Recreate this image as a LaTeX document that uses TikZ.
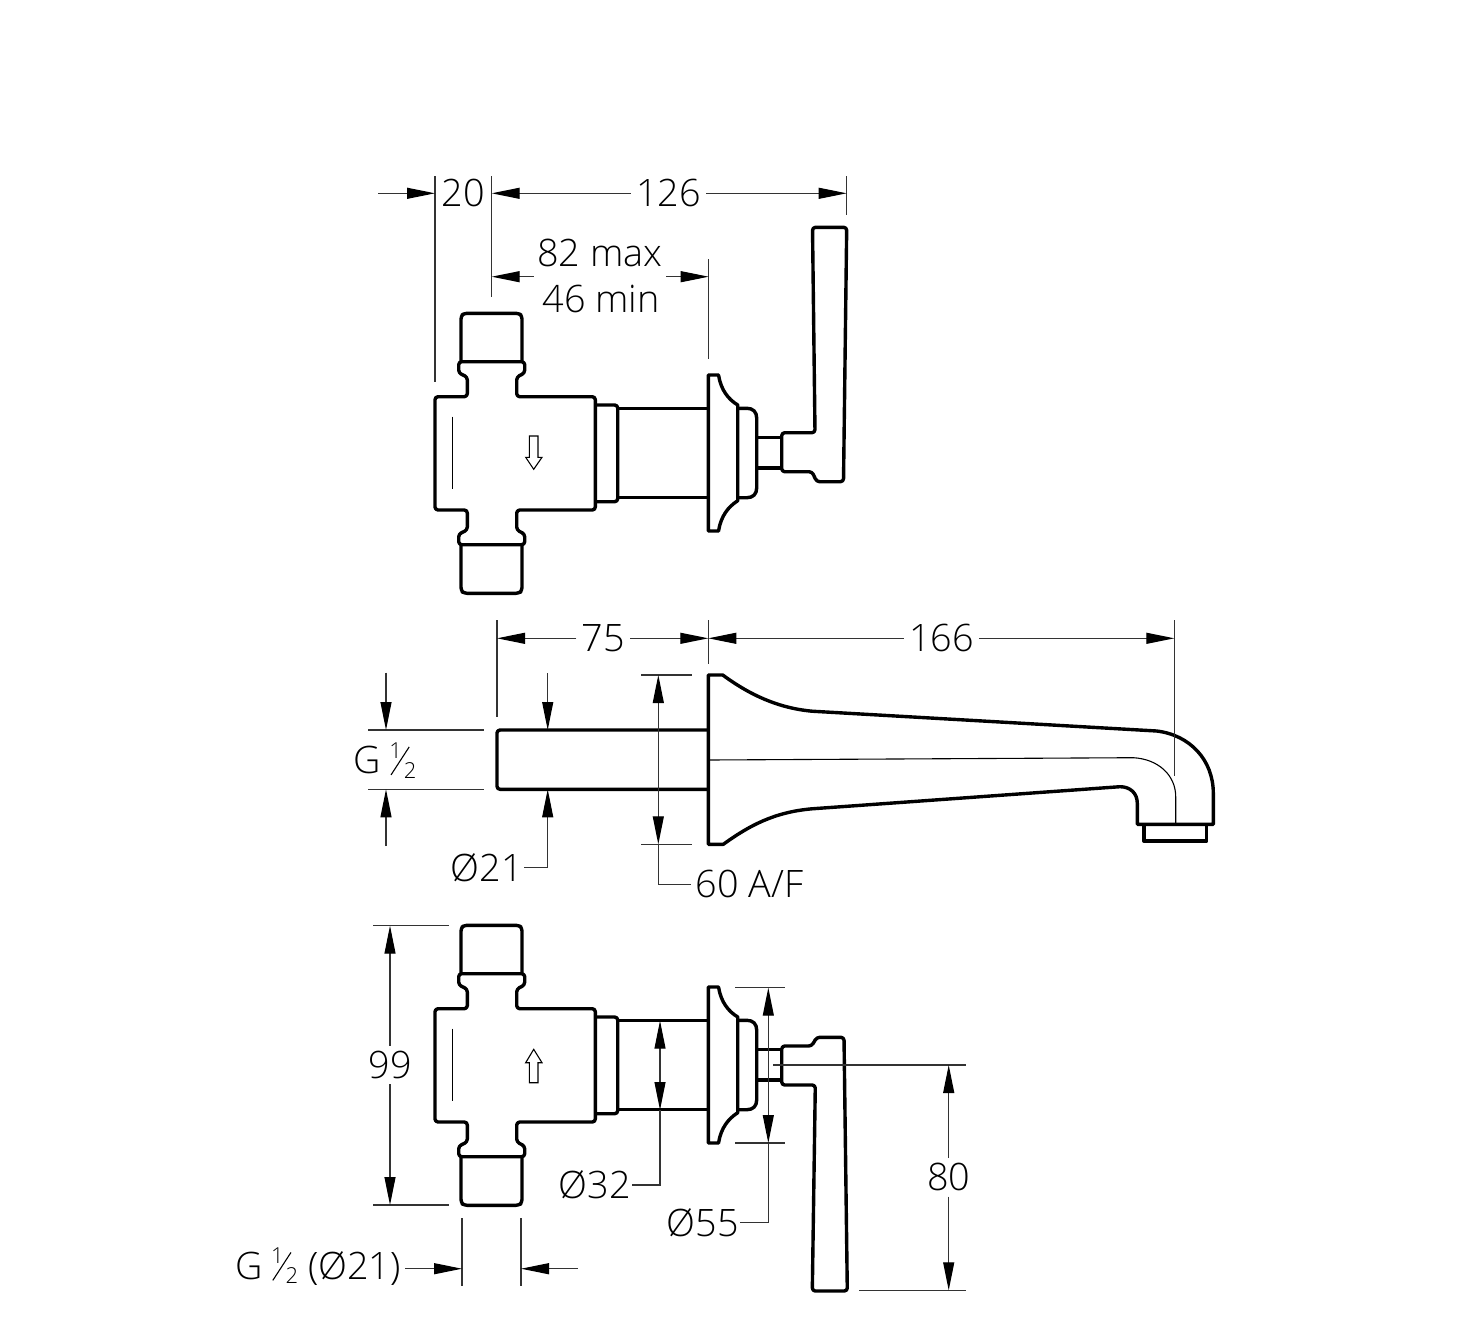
\documentclass[tikz,border=0pt]{standalone}
\usepackage{fontspec}
\setmainfont{Open Sans Light}
\usetikzlibrary{arrows.meta}

% fraction as the drawing prints it
\newcommand{\halfmark}{\smash{\kern4.8pt\rlap{\kern-0.6pt\raisebox{7.6pt}{\fontsize{11}{11}\selectfont 1}}\rlap{\raisebox{-.85pt}{\rotatebox{57}{\rule{16.7pt}{.55pt}}}}\kern6.65pt\raisebox{-2.4pt}{\fontsize{11}{11}\selectfont 2}}}

\begin{document}
\begin{tikzpicture}[x=0.5pt, y=-0.5pt,
    part/.style={line width=1.7pt, line join=round},
    soft/.style={part, rounded corners=1.5pt},
    axis/.style={line width=0.55pt},
    witness/.style={line width=0.55pt, black!80},
    dimline/.style={line width=0.55pt, black!80, -{Triangle[length=14pt, width=5.5pt, black]}},
    dimboth/.style={line width=0.55pt, black!80, {Triangle[length=14pt, width=5.5pt, black]}-{Triangle[length=14pt, width=5.5pt, black]}},
    size/.style={inner sep=2.5pt, font=\fontsize{18.9}{22}\selectfont},
    valve/.pic={
      % cap, body, end piece
      \draw[soft] (461,361.7) -- (461,316) -- (464,313.3) -- (519,313.3) -- (522,316) -- (522,361.7);
      \draw[soft] (458.7,361.7) -- (458.7,373) -- (467.3,377) -- (467.3,396.7) -- (435,396.7) -- (435,510)
        -- (467.3,510) -- (467.3,530) -- (458.7,534) -- (458.7,544.7) -- (524.7,544.7) -- (524.7,534)
        -- (516.7,530) -- (516.7,510) -- (595.3,510) -- (595.3,396.7) -- (516.7,396.7) -- (516.7,377)
        -- (524.7,373) -- (524.7,361.7) -- cycle;
      \draw[soft] (461,544.7) -- (461,590.5) -- (464,593.3) -- (519,593.3) -- (522,590.5) -- (522,544.7);
      \draw[axis] (452.3,416.7) -- (452.3,489.3);
      % ring and sleeve
      \draw[soft] (595.3,405) -- (617.7,405) -- (617.7,501.7) -- (595.3,501.7);
      \draw[part] (617.7,408.3) -- (708.3,408.3);
      \draw[part] (617.7,497.7) -- (708.3,497.7);
      % plate and cover
      \draw[part] (708.3,375) -- (718.5,375) .. controls (721,390) and (728,399) .. (737.7,405) -- (737.7,500.7)
        .. controls (728,507) and (721,516) .. (718.5,531) -- (708.3,531) -- cycle;
      \draw[part] (737.7,408.3) -- (747,408.3) .. controls (753,408.3) and (756.7,412) .. (756.7,418)
        -- (756.7,488) .. controls (756.7,494) and (753,497.7) .. (747,497.7) -- (737.7,497.7);
      % stem
      \draw[part] (756.7,437.7) -- (781.7,437.7);
      \draw[part] (756.7,468) -- (781.7,468);
    }]
  \useasboundingbox (0,0) rectangle (1476,1322);

  %% top view
  \pic at (0,0) {valve};
  \draw[axis] (529.3,436) -- (538,436) -- (538,457.3) -- (542,457.3) -- (533.7,469.3) -- (525.7,457.3) -- (529.3,457.3) -- cycle;
  \draw[soft] (781.7,432.7) -- (815,432.7) -- (812.5,227.3) -- (846.7,227.3) -- (843.5,481.7)
    -- (816.7,481.7) -- (812,471.7) -- (781.7,471.7) -- cycle;

  \draw[witness] (435,176) -- (435,381.7);
  \draw[witness] (491.7,176) -- (491.7,296.7);
  \draw[witness] (846.7,176) -- (846.7,215);
  \draw[witness] (708.7,259.3) -- (708.7,359);

  \node[size] (lab20) at (463.3,193.3) {20};
  \node[size] (lab126) at (668.7,193.3) {126};
  \node[size] (labmax) at (600,253) {82 max};
  \node[size] (labmin) at (601,299) {46 min};
  \coordinate (a20) at (378,193.3);
  \coordinate (b20) at (435,193.3);
  \coordinate (a126) at (491.7,193.3);
  \coordinate (b126) at (846.7,193.3);
  \draw[dimline] (a20) -- (b20);
  \draw[dimline] (lab126) -- (a126);
  \draw[dimline] (lab126) -- (b126);
  \coordinate (a82) at (533.7,276.7);
  \coordinate (b82) at (491.7,276.7);
  \coordinate (c82) at (666,276.7);
  \coordinate (d82) at (708.7,276.7);
  \draw[dimline] (a82) -- (b82);
  \draw[dimline] (c82) -- (d82);

  %% spout
  \draw[soft] (708.3,730) -- (497,730) -- (497,789.3) -- (708.3,789.3);
  \draw[part] (708.3,675) -- (722.7,675) .. controls (750,695) and (778,708) .. (812,711.2)
    -- (1156.7,731) .. controls (1190,735) and (1213.3,760) .. (1213.3,793.3) -- (1213.3,824.3)
    -- (1137.3,824.3) -- (1137.3,803.3) .. controls (1137.3,793) and (1130,786.7) .. (1120,786.7)
    -- (812,808.8) .. controls (775,812) and (750,825) .. (723.3,844.3) -- (708.3,844.3) -- cycle;
  \draw[axis] (708.3,760) -- (1133.3,757.7) .. controls (1158,759) and (1175.7,775) .. (1175.7,796.7) -- (1175.7,824.3);
  \draw[part] (1144,824.3) -- (1144,841) -- (1206.7,841) -- (1206.7,824.3);

  \draw[witness] (497,620) -- (497,716.7);
  \draw[witness] (708.3,620) -- (708.3,664.3);
  \draw[witness] (1174.3,620) -- (1174.3,776);
  \draw[witness] (368.3,730) -- (484,730);
  \draw[witness] (368.3,789.3) -- (484,789.3);
  \draw[witness] (641,675) -- (691.7,675);
  \draw[witness] (641,844.3) -- (691.7,844.3);

  \node[size] (lab75) at (603.3,638.3) {75};
  \node[size] (lab166) at (941.7,638.3) {166};
  \node[size] (labg) at (385,760) {G\halfmark};
  \node[size, inner xsep=0.5pt] (lab21) at (486.7,867.3) {Ø21};
  \node[size] (labaf) at (749.7,884.3) {60 A/F};
  \coordinate (a75) at (497,638.3);
  \coordinate (b75) at (708.3,638.3);
  \coordinate (b166) at (1174.3,638.3);
  \draw[dimline] (lab75) -- (a75);
  \draw[dimline] (lab75) -- (b75);
  \draw[dimline] (lab166) -- (b75);
  \draw[dimline] (lab166) -- (b166);
  \coordinate (g1) at (386,672.7);
  \coordinate (g2) at (386,730);
  \coordinate (g3) at (386,846);
  \coordinate (g4) at (386,789.3);
  \draw[dimline] (g1) -- (g2);
  \draw[dimline] (g3) -- (g4);
  \coordinate (d1) at (547.7,673.3);
  \coordinate (d2) at (547.7,730);
  \coordinate (d3) at (547.7,867.3);
  \coordinate (d4) at (547.7,789.3);
  \draw[dimline] (d1) -- (d2);
  \draw[dimline] (lab21) -- (d3) -- (d4);
  \coordinate (f1) at (658.3,675);
  \coordinate (f2) at (658.3,844.3);
  \coordinate (f3) at (658.3,884.3);
  \draw[dimboth] (f1) -- (f2);
  \draw[witness] (f2) -- (f3) -- (labaf);

  %% bottom view
  \pic at (0,612) {valve};
  \draw[axis] (529.3,1082.7) -- (538,1082.7) -- (538,1062.7) -- (542,1062.7) -- (533.7,1049.3) -- (525.7,1062.7) -- (529.3,1062.7) -- cycle;
  \draw[soft] (781.7,1046) -- (811.7,1046) -- (816.7,1037.3) -- (844,1037.3) -- (847.3,1291)
    -- (812.3,1291) -- (815.3,1085) -- (781.7,1085) -- cycle;

  \draw[witness] (373.3,925.7) -- (448.7,925.7);
  \draw[witness] (373.3,1205) -- (448.7,1205);
  \draw[witness] (462,1218.3) -- (462,1285.7);
  \draw[witness] (521,1218.3) -- (521,1285.7);
  \draw[witness] (735,987.7) -- (785,987.7);
  \draw[witness] (735,1143) -- (785,1143);
  \draw[witness] (773.3,1065) -- (965.7,1065);
  \draw[witness] (859,1290.3) -- (965.7,1290.3);

  \node[size] (lab99) at (390,1065) {99};
  \node[size] (labpipe) at (318,1268) {G\halfmark\ (Ø21)};
  \node[size, inner xsep=0.5pt] (lab32) at (595,1185) {Ø32};
  \node[size, inner xsep=0.5pt] (lab55) at (703,1222.3) {Ø55};
  \node[size] (lab80) at (948.7,1177.3) {80};
  \coordinate (a99) at (390,925.7);
  \coordinate (b99) at (390,1205);
  \draw[dimline] (lab99) -- (a99);
  \draw[dimline] (lab99) -- (b99);
  \coordinate (p0) at (405,1268.7);
  \coordinate (p1) at (462,1268.7);
  \coordinate (p2) at (577.7,1268.7);
  \coordinate (p3) at (521,1268.7);
  \draw[dimline] (p0) -- (p1);
  \draw[dimline] (p2) -- (p3);
  \coordinate (c1) at (660,1020.7);
  \coordinate (c2) at (660,1110);
  \coordinate (c3) at (660,1185);
  \draw[dimboth] (c1) -- (c2);
  \draw[witness] (c2) -- (c3) -- (lab32);
  \coordinate (e1) at (768.3,987.7);
  \coordinate (e2) at (768.3,1143);
  \coordinate (e3) at (768.3,1222.3);
  \draw[dimboth] (e1) -- (e2);
  \draw[witness] (e2) -- (e3) -- (lab55);
  \coordinate (h1) at (948.7,1065);
  \coordinate (h2) at (948.7,1290.3);
  \draw[dimline] (lab80) -- (h1);
  \draw[dimline] (lab80) -- (h2);
\end{tikzpicture}
\end{document}
